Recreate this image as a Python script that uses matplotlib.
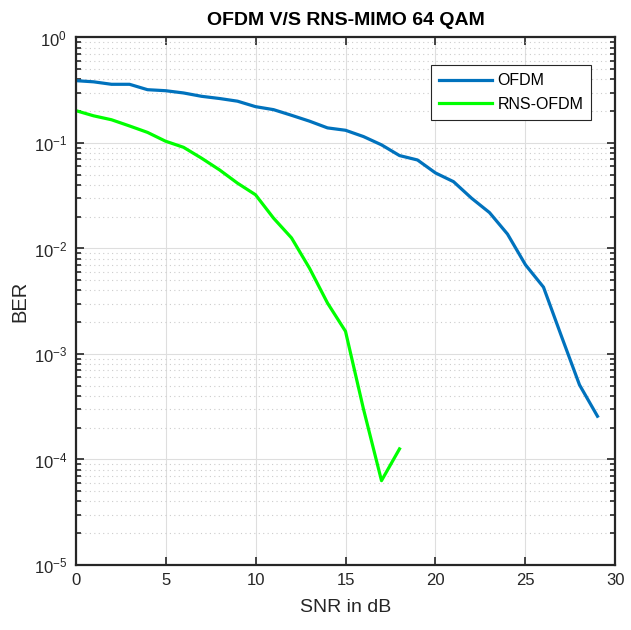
import matplotlib
matplotlib.use("Agg")
import matplotlib.pyplot as plt
from matplotlib.ticker import LogLocator, NullFormatter

snr_ofdm = list(range(0, 30))
ber_ofdm = [0.39, 0.38, 0.36, 0.36, 0.32, 0.313, 0.298, 0.277, 0.264, 0.249,
            0.221, 0.207, 0.183, 0.161, 0.139, 0.132, 0.115, 0.096, 0.076, 0.069,
            0.052, 0.043, 0.030, 0.0219, 0.0137, 0.0070, 0.0043, 0.00147, 0.00051, 0.000257]
snr_rns = list(range(0, 19))
ber_rns = [0.203, 0.181, 0.166, 0.145, 0.126, 0.104, 0.091, 0.0718, 0.0556, 0.0416,
           0.0323, 0.0194, 0.0126, 0.0065, 0.00304, 0.00164, 0.00030, 0.000063, 0.000126]
labels = ["OFDM", "RNS-OFDM"]
colors = ["#0072BD", "#00FF00"]
title = "OFDM V/S RNS-MIMO 64 QAM"
xlabel = "SNR in dB"
ylabel = "BER"
xticks = [0, 5, 10, 15, 20, 25, 30]

font = 'Liberation Sans'
plt.rcParams['font.family'] = [font, 'DejaVu Sans']
plt.rcParams['mathtext.fontset'] = 'custom'
plt.rcParams['mathtext.rm'] = font
plt.rcParams['mathtext.it'] = font
plt.rcParams['mathtext.bf'] = font + ':bold'
plt.rcParams['axes.unicode_minus'] = False

fig = plt.figure(figsize=(6.31, 6.30), dpi=100)
ax = fig.add_axes([0.1197, 0.1032, 0.8557, 0.8373])

ax.semilogy(snr_ofdm, ber_ofdm, color=colors[0], lw=2.3, label=labels[0])
ax.semilogy(snr_rns, ber_rns, color=colors[1], lw=2.3, label=labels[1])

ax.set_xlim(0, 30)
ax.set_ylim(1e-5, 1)
ax.set_xticks(xticks)
ax.yaxis.set_major_locator(LogLocator(base=10, numticks=10))
ax.yaxis.set_minor_locator(LogLocator(base=10, subs=range(2, 10), numticks=20))
ax.yaxis.set_minor_formatter(NullFormatter())

ax.grid(True, which='major', color='#dedede', lw=0.8, ls='-')
ax.grid(True, which='minor', axis='y', color='#cccccc', lw=0.8, ls=(0, (1, 3)))
ax.set_axisbelow(True)

ax.tick_params(which='both', direction='in', top=True, right=True, colors='#262626',
               labelsize=12, labelcolor='#262626')
ax.tick_params(which='major', length=6, width=1.2, pad=6)
ax.tick_params(which='minor', length=3.5, width=1.2)
for s in ax.spines.values():
    s.set_color('#262626')
    s.set_linewidth(1.6)

ax.set_title(title, fontsize=14, fontweight='bold', pad=9)
ax.set_xlabel(xlabel, fontsize=14, color='#262626', labelpad=8)
ax.set_ylabel(ylabel, fontsize=14.5, color='#262626', labelpad=3)

leg = ax.legend(loc='upper right', bbox_to_anchor=(0.970, 0.9625), fontsize=11.5,
                fancybox=False, framealpha=1, edgecolor='#262626',
                handlelength=3.3, handletextpad=0.35, borderpad=0.5, labelspacing=0.55)
leg.get_frame().set_linewidth(0.8)

fig.savefig("out.png", dpi=100)
